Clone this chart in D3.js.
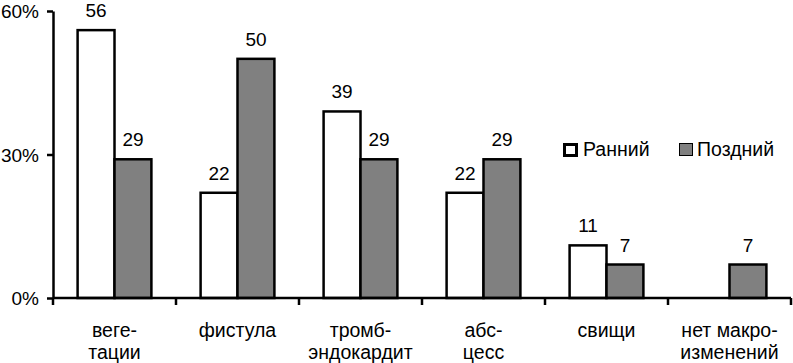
<!DOCTYPE html>
<html lang="ru">
<head>
  <meta charset="UTF-8">
  <title>Ранний / Поздний</title>
  <script src="https://d3js.org/d3.v7.min.js"></script>
  <style>
    body { margin: 0; background: #fff; }
    text { font-family: "Liberation Sans", Arial, sans-serif; fill: #000; }
    .axis path, .axis line { stroke: #000; stroke-width: 2.5px; }
    .axis text { font-size: 19px; }
    .val { font-size: 19px; text-anchor: middle; }
    .cat { font-size: 19.5px; text-anchor: middle; }
    .leg { font-size: 19.5px; }
  </style>
</head>
<body>
  <svg></svg>
  <script>
    const categories = [
      ["веге-", "тации"],
      ["фистула"],
      ["тромб-", "эндокардит"],
      ["абс-", "цесс"],
      ["свищи"],
      ["нет макро-", "изменений"]
    ];
    const seriesNames = ["Ранний", "Поздний"];
    const early = [56, 22, 39, 22, 11, null];
    const late = [29, 50, 29, 29, 7, 7];
    const yTicks = [0, 30, 60];

    const width = 793, height = 363;
    const margin = { left: 53, right: 2, top: 11, bottom: 65 };

    const svg = d3.select("svg").attr("width", width).attr("height", height);

    const x = d3.scaleBand()
        .domain(d3.range(categories.length))
        .range([margin.left, width - margin.right]);
    const y = d3.scaleLinear()
        .domain([0, 60])
        .range([height - margin.bottom, margin.top]);

    const barW = x.bandwidth() * 0.3;
    const colors = ["#fff", "#808080"];
    const series = [early, late];

    // bars
    series.forEach((vals, s) => {
      const g = svg.append("g");
      vals.forEach((v, i) => {
        if (v == null) return;
        const bx = x(i) + x.bandwidth() / 2 - barW + s * barW;
        g.append("rect")
            .attr("x", bx)
            .attr("y", y(v))
            .attr("width", barW)
            .attr("height", y(0) - y(v))
            .attr("fill", colors[s])
            .attr("stroke", "#000")
            .attr("stroke-width", 2.5);
        g.append("text")
            .attr("class", "val")
            .attr("x", bx + barW / 2)
            .attr("y", y(v) - 13)
            .text(v);
      });
    });

    // y axis
    svg.append("g")
        .attr("class", "axis")
        .attr("transform", `translate(${margin.left},0)`)
        .call(d3.axisLeft(y).tickValues(yTicks).tickSize(6).tickSizeOuter(0).tickFormat(d => d + "%"))
        .call(g => g.selectAll("text").attr("x", -14).attr("dy", "0.35em"));

    // x axis
    const xAxis = svg.append("g")
        .attr("class", "axis")
        .attr("transform", `translate(0,${y(0)})`);
    xAxis.append("line")
        .attr("x1", margin.left).attr("x2", width - margin.right);
    d3.range(categories.length + 1).forEach(i => {
      const tx = i < categories.length ? x(i) : x(i - 1) + x.bandwidth();
      xAxis.append("line")
          .attr("x1", tx).attr("x2", tx)
          .attr("y1", 0).attr("y2", 7);
    });

    // category labels
    categories.forEach((lines, i) => {
      const t = svg.append("text")
          .attr("class", "cat")
          .attr("x", x(i) + x.bandwidth() / 2)
          .attr("y", 337);
      lines.forEach((l, k) => {
        t.append("tspan")
            .attr("x", x(i) + x.bandwidth() / 2)
            .attr("dy", k === 0 ? 0 : 22)
            .text(l);
      });
    });

    // legend
    const legend = svg.append("g").attr("transform", "translate(563,143)");
    const legendX = [0, 116];
    seriesNames.forEach((name, s) => {
      legend.append("rect")
          .attr("x", legendX[s] + (s === 0 ? 1.5 : 0.5))
          .attr("y", s === 0 ? 1.5 : 0.5)
          .attr("width", s === 0 ? 12 : 13)
          .attr("height", s === 0 ? 11 : 12)
          .attr("fill", colors[s])
          .attr("stroke", "#000")
          .attr("stroke-width", s === 0 ? 3 : 1);
      legend.append("text")
          .attr("class", "leg")
          .attr("x", legendX[s] + (s === 0 ? 20 : 18))
          .attr("y", 13)
          .text(name);
    });
  </script>
</body>
</html>
